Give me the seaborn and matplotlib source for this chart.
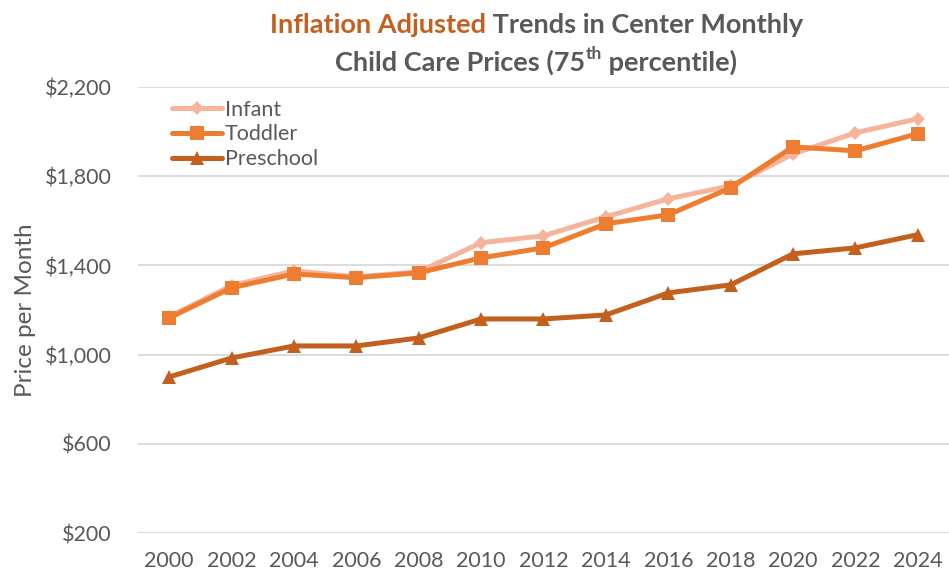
import pandas as pd
import matplotlib
matplotlib.use("Agg")
import matplotlib.pyplot as plt
import seaborn as sns
from matplotlib.ticker import FuncFormatter

years = [2000, 2002, 2004, 2006, 2008, 2010, 2012, 2014, 2016, 2018, 2020, 2022, 2024]
infant = [1170, 1310, 1376, 1349, 1371, 1502, 1533, 1618, 1699, 1757, 1900, 1995, 2058]
toddler = [1165, 1300, 1362, 1345, 1367, 1434, 1479, 1587, 1627, 1748, 1932, 1914, 1991]
preschool = [900, 985, 1039, 1039, 1075, 1160, 1160, 1178, 1277, 1313, 1452, 1479, 1538]
y_ticks = [200, 600, 1000, 1400, 1800, 2200]

df = pd.DataFrame({"Year": years, "Infant": infant, "Toddler": toddler, "Preschool": preschool})
long = df.melt(id_vars="Year", var_name="Age", value_name="Price")

sns.set_theme(style="white")
plt.rcParams["font.family"] = ["Lato", "DejaVu Sans"]

gray = "#595959"
colors = {"Infant": "#F4B59C", "Toddler": "#ED7D31", "Preschool": "#C4601F"}
markers = {"Infant": "D", "Toddler": "s", "Preschool": "^"}
msize = {"Infant": 7.5, "Toddler": 9.5, "Preschool": 9.5}

fig = plt.figure(figsize=(9.49, 5.71), dpi=100)
ax = fig.add_axes([0.1454, 0.0665, 0.8546, 0.781])

for name in ["Infant", "Toddler", "Preschool"]:
    sub = long[long["Age"] == name]
    sns.lineplot(data=sub, x="Year", y="Price", ax=ax, color=colors[name],
                 linewidth=3.6, marker=markers[name], markersize=msize[name],
                 markeredgewidth=0, label=name)

ax.set_xlim(1999, 2025)
ax.set_ylim(200, 2200)
ax.set_xticks(years)
ax.set_yticks(y_ticks)
ax.yaxis.set_major_formatter(FuncFormatter(lambda v, p: f"${v:,.0f}"))
ax.grid(axis="y", color="#D9D9D9", linewidth=1.3)
ax.set_axisbelow(True)
for s in ax.spines.values():
    s.set_visible(False)
ax.tick_params(axis="both", length=0, labelsize=15.5, colors=gray)
ax.tick_params(axis="x", pad=13)
ax.tick_params(axis="y", pad=19)
ax.set_xlabel("")
ax.set_ylabel("Price per Month", fontsize=17.5, color=gray, labelpad=6)

leg = ax.legend(loc="upper left", bbox_to_anchor=(0.042, 0.972), frameon=False,
                fontsize=15.5, handlelength=2.3, handletextpad=0.15,
                labelspacing=0.22, borderaxespad=0, borderpad=0)
for t in leg.get_texts():
    t.set_color(gray)

# title with mixed colours
fig.canvas.draw()
renderer = fig.canvas.get_renderer()


def centered_line(pieces, cx, y):
    texts = []
    for s, c, fs, dy in pieces:
        texts.append(fig.text(0, y + dy, s, color=c, fontsize=fs, fontweight="bold",
                              ha="left", va="baseline"))
    widths = [t.get_window_extent(renderer).width / fig.bbox.width for t in texts]
    x = cx - sum(widths) / 2
    for t, w in zip(texts, widths):
        t.set_x(x)
        x += w


cx = 0.565
centered_line([("Inflation Adjusted", "#C4601F", 19.5, 0),
               (" Trends in Center Monthly", gray, 19.5, 0)], cx, 0.942)
centered_line([("Child Care Prices (75", gray, 19.5, 0),
               ("th", gray, 12.5, 0.02),
               (" percentile)", gray, 19.5, 0)], cx, 0.876)

fig.savefig("out.png", dpi=100)
